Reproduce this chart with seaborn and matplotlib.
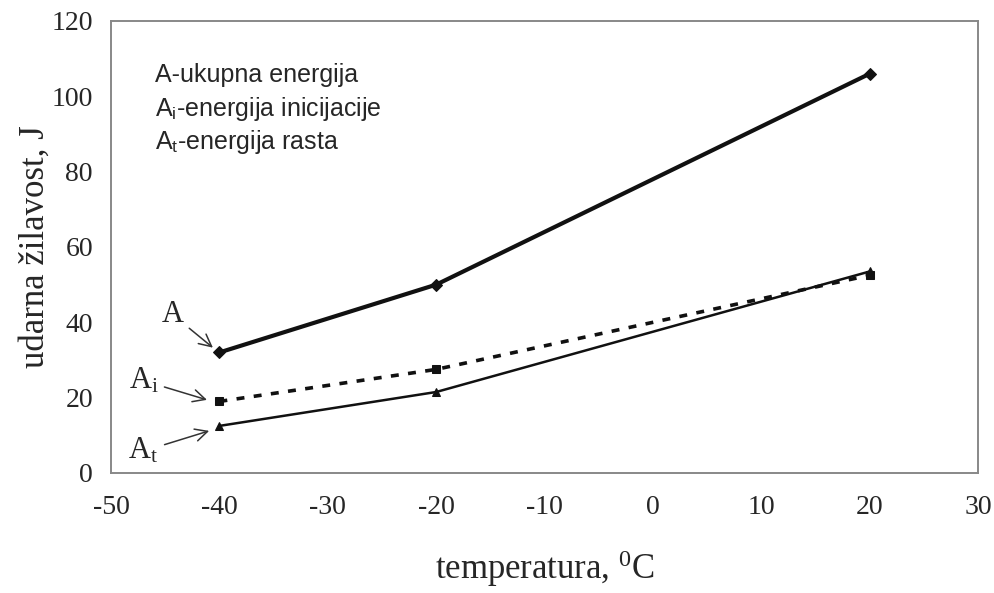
"""
Udarna žilavost u zavisnosti od temperature (A, Ai, At).
"""

import matplotlib
matplotlib.use('Agg')
import matplotlib.pyplot as plt
import pandas as pd
import seaborn as sns

# Podaci očitani sa grafika
temperature = [-40, -20, 20]
A_ukupna = [32, 50, 106]
A_inicijacija = [19, 27.5, 52.5]
A_rast = [12.5, 21.5, 53.5]

x_ticks = [-50, -40, -30, -20, -10, 0, 10, 20, 30]
y_ticks = [0, 20, 40, 60, 80, 100, 120]

legend_lines = [
    r"A-ukupna energija",
    r"A$_{\mathsf{i}}$-energija inicijacije",
    r"A$_{\mathsf{t}}$-energija rasta",
]

sns.set_style('white')
plt.rcParams['font.family'] = ['Liberation Serif', 'DejaVu Serif']
plt.rcParams['axes.unicode_minus'] = False
plt.rcParams['mathtext.fontset'] = 'custom'
plt.rcParams['mathtext.rm'] = 'Liberation Serif'
plt.rcParams['mathtext.sf'] = 'Liberation Sans'
plt.rcParams['mathtext.it'] = 'Liberation Serif:italic'

df = pd.DataFrame({
    'T': temperature,
    'A': A_ukupna,
    'Ai': A_inicijacija,
    'At': A_rast,
})

fig = plt.figure(figsize=(9.94, 5.93), dpi=100)
ax = fig.add_axes([0.1117, 0.2024, 0.8723, 0.7622])

# A - ukupna energija
sns.lineplot(data=df, x='T', y='A', ax=ax, color='#111111', linewidth=3,
             marker='D', markersize=6, markeredgecolor='#111111')
# Ai - energija inicijacije (isprekidana)
sns.lineplot(data=df, x='T', y='Ai', ax=ax, color='#111111', linewidth=2.6,
             marker='s', markersize=6, markeredgecolor='#111111',
             dashes=False)
ax.lines[-1].set_dashes([2.2, 2.6])
# At - energija rasta
sns.lineplot(data=df, x='T', y='At', ax=ax, color='#111111', linewidth=1.8,
             marker='^', markersize=6, markeredgecolor='#111111')

ax.set_xlim(-50, 30)
ax.set_ylim(0, 120)
ax.set_xticks(x_ticks)
ax.set_yticks(y_ticks)
ax.tick_params(axis='both', labelsize=20, direction='out', length=7,
               width=1, color='#666666', pad=6)
ax.tick_params(axis='x', pad=9)

for side in ['top', 'right', 'bottom', 'left']:
    ax.spines[side].set_color('#888888')
    ax.spines[side].set_linewidth(1.4)

ax.set_xlabel(r'temperatura, $^{0}$C', fontsize=25, labelpad=20)
ax.set_ylabel('udarna žilavost, J', fontsize=25, labelpad=0)

# Opis krivih
for i, txt in enumerate(legend_lines):
    ax.text(-45.9, 105.6 - i * 8.9, txt, fontsize=18,
            family=['Liberation Sans', 'DejaVu Sans'], va='center', ha='left')

# Oznake sa strelicama
arrow_kw = dict(arrowstyle='->', color='#333333', lw=1.1)
ax.annotate('A', xy=(-40.4, 32.8), xytext=(-44.3, 42.0), fontsize=22,
            ha='center', va='center', arrowprops=arrow_kw)
ax.annotate(r'A$_{\mathrm{i}}$', xy=(-40.9, 19.2), xytext=(-47.0, 24.5),
            fontsize=22, ha='center', va='center', arrowprops=arrow_kw)
ax.annotate(r'A$_{\mathrm{t}}$', xy=(-40.7, 11.4), xytext=(-47.0, 5.8),
            fontsize=22, ha='center', va='center', arrowprops=arrow_kw)

plt.savefig('out.png', dpi=100)
plt.close()
